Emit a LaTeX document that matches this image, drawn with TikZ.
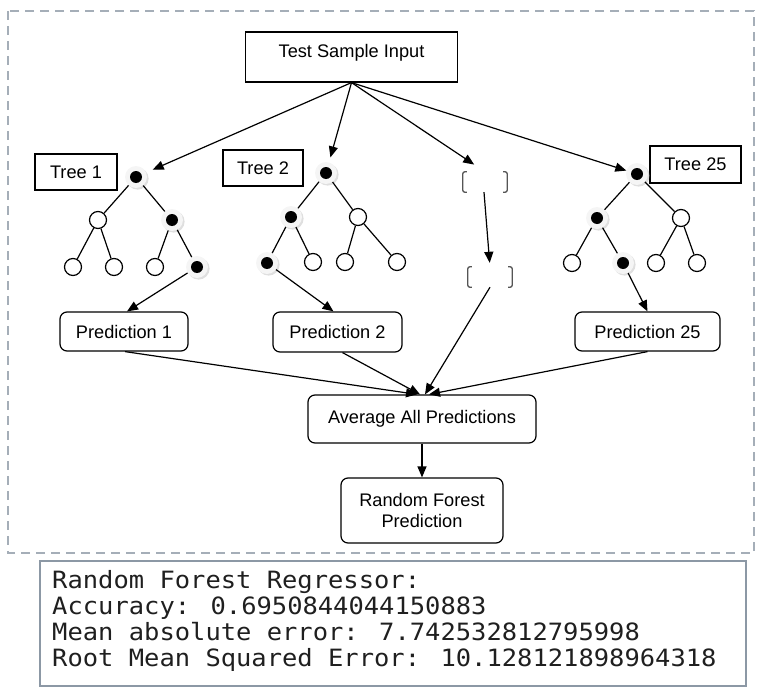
\documentclass[tikz,border=0pt]{standalone}
\usepackage{fontspec}
\setmainfont{Liberation Sans}
\newfontfamily\resmono[FakeStretch=1.07]{DejaVu Sans Mono}
\usetikzlibrary{arrows.meta,shadows}
\definecolor{dashgray}{RGB}{165,174,184}
\definecolor{resgray}{RGB}{140,152,165}
\definecolor{brkgray}{RGB}{85,85,85}
\tikzset{
  sqbox/.style={draw, line width=1.2pt, inner sep=0pt, font=\fontsize{18.2}{21.5}\selectfont, align=center},
  rdbox/.style={sqbox, rounded corners=7pt},
  wnode/.style={circle, draw, line width=1.2pt, minimum size=17pt, inner sep=0pt, fill=white},
  bnode/.style={circle, minimum size=22pt, inner sep=0pt, fill=gray!8,
    drop shadow={shadow xshift=1.6pt, shadow yshift=-1.6pt, fill=gray!50},
    path picture={\fill[black] (path picture bounding box.center) circle (6pt);}},
  brk/.style={minimum width=44pt, minimum height=20pt, inner sep=0pt},
  tedge/.style={line width=1.2pt},
  arr/.style={line width=1.2pt, -{Triangle[length=11pt,width=9pt]}},
  restext/.style={inner sep=0pt, text=black!88, font=\resmono\fontsize{23.8}{26}\selectfont},
}
\newcommand\drawbrk[1]{%
  \draw[brkgray, line width=1.3pt, rounded corners=2pt] ([xshift=4pt]#1.north west) -- (#1.north west) -- (#1.south west) -- ([xshift=4pt]#1.south west);
  \draw[brkgray, line width=1.3pt, rounded corners=2pt] ([xshift=-4pt]#1.north east) -- (#1.north east) -- (#1.south east) -- ([xshift=-4pt]#1.south east);}
\begin{document}
\begin{tikzpicture}[x=1pt,y=-1pt]
\useasboundingbox (0,0) rectangle (764,696);
% frame
\draw[dashgray, line width=1.6pt, dash pattern=on 9pt off 6pt] (8,11) rectangle (754,553);

% boxes
\node[sqbox, minimum width=212pt, minimum height=50pt, text height=12.6pt, text depth=12.6pt] (tsi) at (351.5,57) {Test Sample Input};
\node[sqbox, minimum width=82pt, minimum height=36pt] (lab1) at (76,172) {Tree 1};
\node[sqbox, minimum width=80pt, minimum height=36pt] (lab2) at (263,168) {Tree 2};
\node[sqbox, minimum width=91pt, minimum height=37pt] (lab25) at (695.5,164.5) {Tree 25};
\node[rdbox, minimum width=128pt, minimum height=39pt] (p1) at (124,331.5) {Prediction 1};
\node[rdbox, minimum width=129pt, minimum height=40pt] (p2) at (337.5,332) {Prediction 2};
\node[rdbox, minimum width=145pt, minimum height=39pt] (p25) at (647.5,331.5) {Prediction 25};
\node[rdbox, minimum width=228pt, minimum height=48pt] (avg) at (422,419) {Average All Predictions};
\node[rdbox, minimum width=162pt, minimum height=65pt] (rf) at (422,510.5) {Random Forest\\Prediction};

% tree 1
\node[bnode] (t1r) at (136,177) {};
\node[wnode] (t1a) at (98,220) {};
\node[bnode] (t1b) at (172,220) {};
\node[wnode] (t1aa) at (73,267) {};
\node[wnode] (t1ab) at (114,267) {};
\node[wnode] (t1ba) at (155,267) {};
\node[bnode] (t1bb) at (197,267) {};
% tree 2
\node[bnode] (t2r) at (326,173) {};
\node[bnode] (t2a) at (291,217) {};
\node[wnode] (t2b) at (358,217) {};
\node[bnode] (t2aa) at (267,263) {};
\node[wnode] (t2ab) at (313,262) {};
\node[wnode] (t2ba) at (345,262) {};
\node[wnode] (t2bb) at (397,262) {};
% tree 25
\node[bnode] (t3r) at (637,174) {};
\node[bnode] (t3a) at (597,218) {};
\node[wnode] (t3b) at (681,218) {};
\node[wnode] (t3aa) at (572,263) {};
\node[bnode] (t3ab) at (623,263) {};
\node[wnode] (t3ba) at (656,263) {};
\node[wnode] (t3bb) at (697,263) {};

% tree edges
\foreach \t in {t1,t2,t3}{
  \draw[tedge] (\t r) -- (\t a);
  \draw[tedge] (\t r) -- (\t b);
  \draw[tedge] (\t a) -- (\t aa);
  \draw[tedge] (\t a) -- (\t ab);
  \draw[tedge] (\t b) -- (\t ba);
  \draw[tedge] (\t b) -- (\t bb);
}

% brackets
\node[brk] (br1) at (485,182) {};
\node[brk] (br2) at (490,277) {};
\drawbrk{br1}
\drawbrk{br2}

% arrows from input
\draw[arr, shorten >=7pt] (tsi.south) -- (t1r);
\draw[arr, shorten >=5pt] (tsi.south) -- (t2r);
\draw[arr, shorten >=13pt] (tsi.south) -- (br1.north);
\draw[arr] (tsi.south) -- (t3r);

% to predictions
\draw[arr] (t1bb) -- ([xshift=3]p1.north);
\draw[arr] (t2aa) -- ([xshift=-4]p2.north);
\draw[arr] (t3ab) -- (p25.north);
\draw[arr, shorten >=4pt] ([xshift=-1]br1.south) -- (br2.north);

% to average
\draw[arr] ([xshift=1]p1.south) -- ([xshift=-5]avg.north);
\draw[arr] ([xshift=5]p2.south) -- ([xshift=-2]avg.north);
\draw[arr] (br2.south) -- ([xshift=3]avg.north);
\draw[arr] (p25.south) -- ([xshift=7]avg.north);
\draw[arr] (avg) -- (rf);

% results box
\node[draw=resgray, line width=1.6pt, minimum width=706pt, minimum height=125pt, inner sep=0pt] (res) at (393,623.5) {};
\node[restext, anchor=base west] (r1) at (52,588) {Random Forest Regressor:};
\node[restext, anchor=base west] (r2) at (52,614) {Accuracy: 0.6950844044150883};
\node[restext, anchor=base west] (r3) at (52,640) {Mean absolute error: 7.742532812795998};
\node[restext, anchor=base west] (r4) at (52,666) {Root Mean Squared Error: 10.128121898964318};
\end{tikzpicture}
\end{document}
